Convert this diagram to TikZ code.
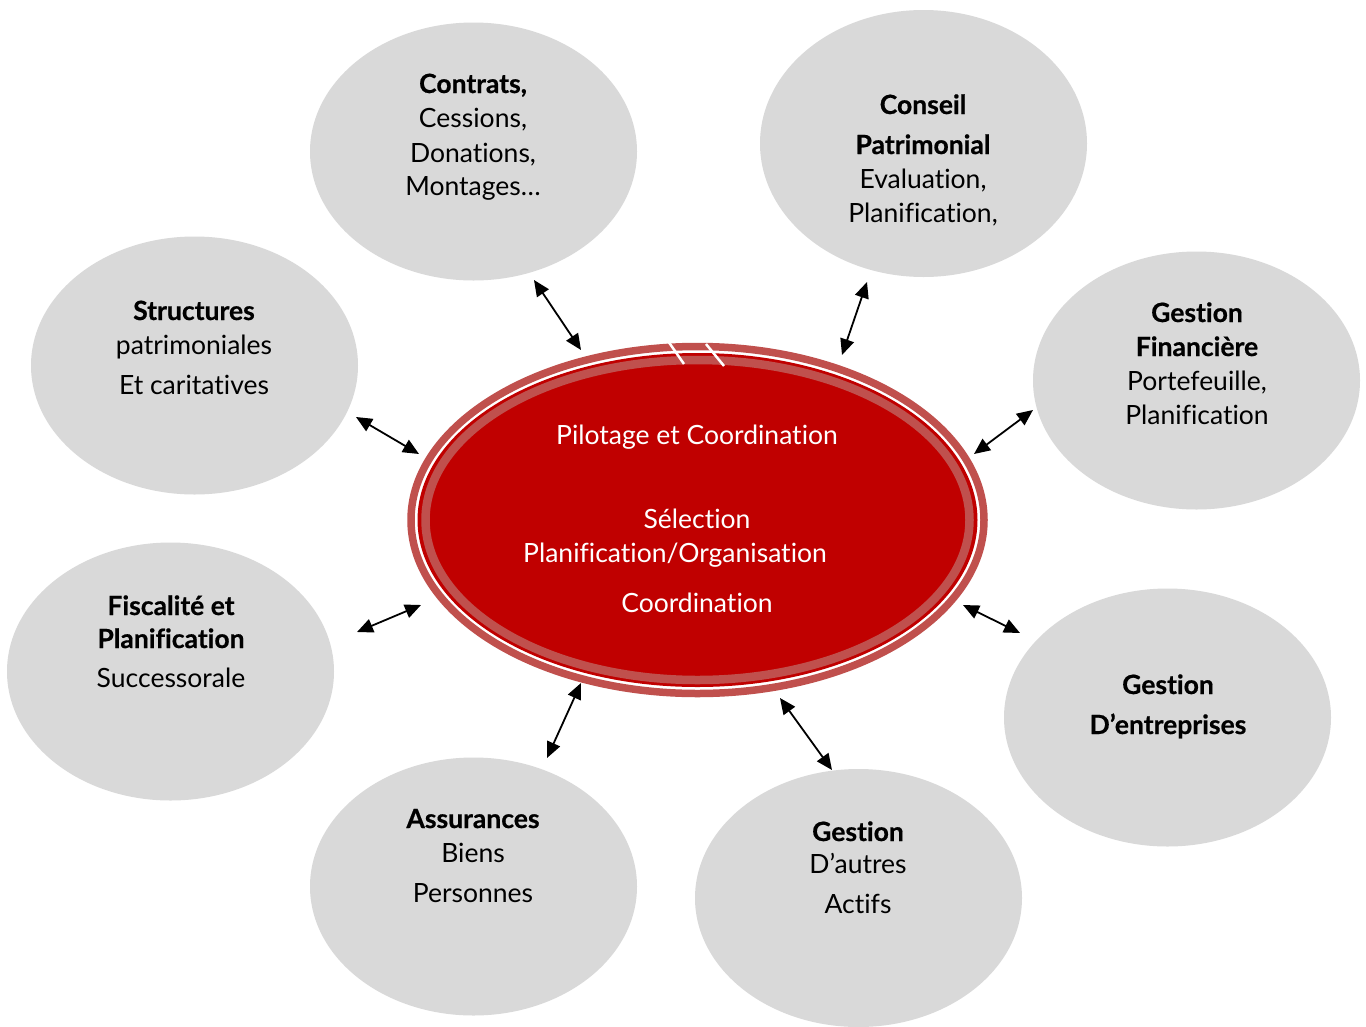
\documentclass[tikz,border=0pt]{standalone}
\usepackage{fontspec}
\setmainfont{Lato}[Ligatures=NoCommon, BoldFeatures={FakeBold=0.6}]
\usetikzlibrary{shapes.geometric,arrows.meta}
\definecolor{satgray}{HTML}{D9D9D9}
\definecolor{darkred}{HTML}{C00000}
\definecolor{lightred}{HTML}{C0504D}
\begin{document}
\begin{tikzpicture}[x=1pt,y=-1pt,
  sat/.style={ellipse, fill=satgray, inner sep=0pt, minimum width=327pt, minimum height=258pt},
  lbl/.style={anchor=base, inner sep=0pt, font=\fontsize{26.5}{30}\selectfont, text=black},
  clbl/.style={anchor=base, inner sep=0pt, font=\fontsize{26.5}{30}\selectfont, text=white},
  link/.style={line width=1.8pt, {Triangle[length=16pt,width=14pt]}-{Triangle[length=16pt,width=14pt]}}
]
\useasboundingbox[fill=white] (0,0) rectangle (1366,1026);

% satellites
\node[sat] (contrats) at (473.5,151.5) {};
\node[sat, minimum height=267pt] (conseil) at (923.5,143.5) {};
\node[sat] (structures) at (194.5,365.5) {};
\node[sat] (financiere) at (1196.5,380.5) {};
\node[sat] (fiscalite) at (170.5,671.5) {};
\node[sat] (entreprises) at (1167.5,717.5) {};
\node[sat] (assurances) at (473.5,886.5) {};
\node[sat] (autres) at (858.5,898) {};

% central ellipse
\node[ellipse, fill=darkred, inner sep=0pt, minimum width=560pt, minimum height=334pt] (ctr) at (697.5,520) {};
\draw[lightred, line width=7.5pt] (ctr.center) ellipse [x radius=286.5, y radius=173.5];
\draw[lightred, line width=8.5pt] (ctr.center) ellipse [x radius=272, y radius=160];
\draw[white, line width=2.5pt] (668,341) -- (684,364);
\draw[white, line width=2.5pt] (706,344) -- (724,366);

% texts
\node[lbl] (t1a) at (473,93) {\textbf{Contrats,}};
\node[lbl] (t1b) at (473,127) {Cessions,};
\node[lbl] (t1c) at (473,162) {Donations,};
\node[lbl] (t1d) at (473,195) {Montages…};

\node[lbl] (t2a) at (923,114) {\textbf{Conseil}};
\node[lbl] (t2b) at (923,154) {\textbf{Patrimonial}};
\node[lbl] (t2c) at (923,188) {Evaluation,};
\node[lbl] (t2d) at (923,222) {Planification,};

\node[lbl] (t3a) at (194,320) {\textbf{Structures}};
\node[lbl] (t3b) at (194,354) {patrimoniales};
\node[lbl] (t3c) at (194,394) {Et caritatives};

\node[lbl] (t4a) at (1197,322) {\textbf{Gestion}};
\node[lbl] (t4b) at (1197,356) {\textbf{Financière}};
\node[lbl] (t4c) at (1197,390) {Portefeuille,};
\node[lbl] (t4d) at (1197,424) {Planification};

\node[lbl] (t5a) at (171,615) {\textbf{Fiscalité et}};
\node[lbl] (t5b) at (171,648) {\textbf{Planification}};
\node[lbl] (t5c) at (171,687) {Successorale};

\node[lbl] (t6a) at (1168,694) {\textbf{Gestion}};
\node[lbl] (t6b) at (1168,734) {\textbf{D’entreprises}};

\node[lbl] (t7a) at (473,828) {\textbf{Assurances}};
\node[lbl] (t7b) at (473,862) {Biens};
\node[lbl] (t7c) at (473,902) {Personnes};

\node[lbl] (t8a) at (858,841) {\textbf{Gestion}};
\node[lbl] (t8b) at (858,873) {D’autres};
\node[lbl] (t8c) at (858,913) {Actifs};

\node[clbl] (c1) at (697,444) {Pilotage et Coordination};
\node[clbl] (c2) at (697,528) {Sélection};
\node[clbl] (c3) at (675,562) {Planification/Organisation};
\node[clbl] (c4) at (697,612) {Coordination};

% arrow end points
\coordinate (a1s) at (534,280); \coordinate (a1c) at (581,350);
\coordinate (a2s) at (867,282); \coordinate (a2c) at (842,355);
\coordinate (a3s) at (356,417); \coordinate (a3c) at (419,454);
\coordinate (a4s) at (1033,410); \coordinate (a4c) at (974,454);
\coordinate (a5s) at (357,632); \coordinate (a5c) at (421,605);
\coordinate (a6s) at (1020,633); \coordinate (a6c) at (963,605);
\coordinate (a7s) at (547,758); \coordinate (a7c) at (581,683);
\coordinate (a8s) at (832,770); \coordinate (a8c) at (780,698);

\foreach \i in {1,...,8} {\draw[link] (a\i s) -- (a\i c);}
\end{tikzpicture}
\end{document}
